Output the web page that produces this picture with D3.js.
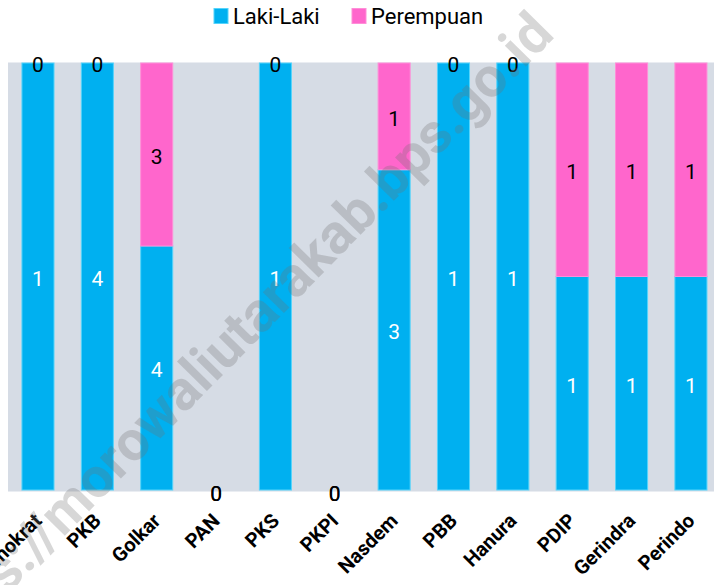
<!DOCTYPE html>
<html><head><meta charset="utf-8">
<script src="https://cdn.jsdelivr.net/npm/d3@7"></script>
<style>html,body{margin:0;padding:0;background:#fff;} svg{display:block;font-family:Roboto, "Noto Sans", sans-serif;}</style>
</head><body>
<svg id="chart" width="714" height="585"></svg>
<script>
const categories = ["Demokrat","PKB","Golkar","PAN","PKS","PKPI","Nasdem","PBB","Hanura","PDIP","Gerindra","Perindo"];
const lakiLaki  = [1,4,4,0,1,0,3,1,1,1,1,1];
const perempuan = [0,0,3,0,0,0,1,0,0,1,1,1];
const seriesNames = ["Laki-Laki","Perempuan"];
const colors = ["#00b0f0","#ff66cc"];
const strokes = ["#55d4fb","#ff8ed8"];
const labelColors = ["#ffffff","#000000"];
const watermark = "https://morowaliutarakab.bps.go.id";

const svg = d3.select("#chart");
const rows = categories.map((c,i)=>({cat:c, "Laki-Laki":lakiLaki[i], "Perempuan":perempuan[i]}));
const stack = d3.stack().keys(seriesNames).offset(d3.stackOffsetExpand);
const stacked = stack(rows);

const x = d3.scaleBand().domain(categories).range([8.3, 720.6]).paddingInner(0.46).paddingOuter(0.23);
const y = d3.scaleLinear().domain([0,1]).range([490, 63]);

// plot background
svg.append("rect").attr("x", 8).attr("y", 62.5).attr("width", 720).attr("height", 429).attr("fill", "#d6dce5");

// bars
const g = svg.append("g");
stacked.forEach((s, si) => {
  g.selectAll(null).data(s).enter().append("rect")
    .attr("x", d => x(d.data.cat))
    .attr("width", x.bandwidth())
    .attr("y", d => y(isNaN(d[1]) ? 0 : d[1]))
    .attr("height", d => Math.max(0, y(isNaN(d[0])?0:d[0]) - y(isNaN(d[1])?0:d[1])))
    .attr("fill", colors[si])
    .attr("stroke", d => (y(d[0]||0) - y(d[1]||0)) > 0 ? strokes[si] : "none")
    .attr("stroke-width", 1);
});

// value labels
stacked.forEach((s, si) => {
  g.selectAll(null).data(s).enter().append("text")
    .attr("x", d => x(d.data.cat) + x.bandwidth()/2)
    .attr("y", d => {
      const total = d.data["Laki-Laki"] + d.data["Perempuan"];
      if (total === 0) return y(0) + 4;
      return (y(d[0]) + y(d[1]))/2 + 2;
    })
    .attr("dy", "0.35em")
    .attr("text-anchor", "middle")
    .attr("font-size", 21)
    .attr("fill", d => (d.data["Laki-Laki"] + d.data["Perempuan"]) === 0 ? "#000" : labelColors[si])
    .text(d => d.data[s.key]);
});

// x axis labels
const xl = svg.append("g");
categories.forEach(c => {
  xl.append("text")
    .attr("transform", `translate(${x(c) + x.bandwidth()/2 + 5},522) rotate(-45)`)
    .attr("text-anchor", "end")
    .attr("font-size", 20)
    .attr("font-weight", "bold")
    .attr("fill", "#000")
    .text(c);
});

// legend
const legend = svg.append("g");
const legendX = [214, 352];
seriesNames.forEach((n, i) => {
  legend.append("rect").attr("x", legendX[i]).attr("y", 8.5).attr("width", 14).attr("height", 15)
    .attr("fill", colors[i]).attr("stroke", strokes[i]).attr("stroke-width", 1);
  legend.append("text").attr("x", legendX[i] + 19).attr("y", 24).attr("font-size", 22).attr("fill", "#000").text(n);
});

// watermark
svg.append("text")
  .attr("transform", "translate(556,36) rotate(-45.5)")
  .attr("text-anchor", "end")
  .attr("font-size", 56)
  .attr("font-weight", "bold")
  .attr("fill", "#707070")
  .attr("fill-opacity", 0.28)
  .text(watermark);
</script>
</body></html>
